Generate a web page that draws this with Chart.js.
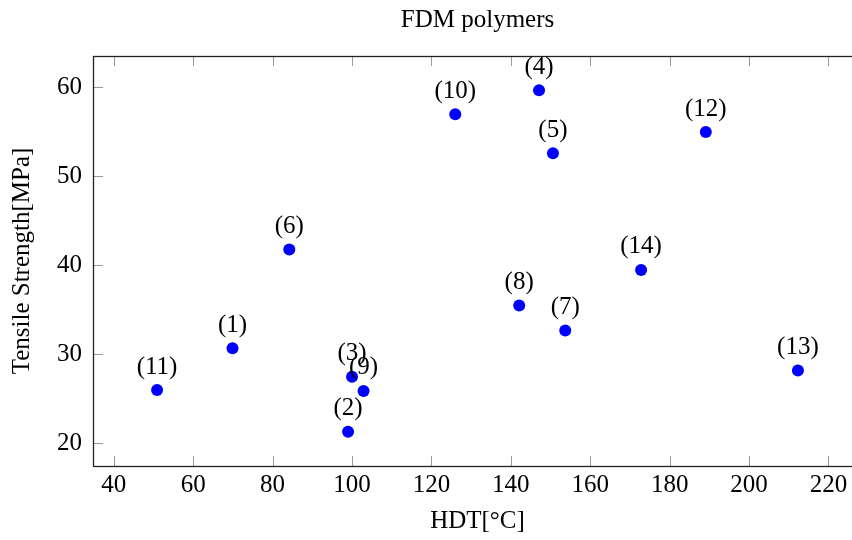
<!DOCTYPE html>
<html>
<head>
<meta charset="utf-8">
<script src="https://cdn.jsdelivr.net/npm/chart.js@4/dist/chart.umd.min.js"></script>
<style>
html,body{margin:0;padding:0;background:#fff;overflow:hidden;width:852px;height:540px;}
#c{display:block;}
</style>
</head>
<body>
<canvas id="c" width="872" height="540"></canvas>
<script>
const pointLabels = ['(1)','(2)','(3)','(4)','(5)','(6)','(7)','(8)','(9)','(10)','(11)','(12)','(13)','(14)'];
const hdt = [69.9, 99.0, 100.0, 147.1, 150.6, 84.2, 153.7, 142.1, 102.9, 126.0, 50.9, 189.1, 212.3, 172.8];
const tensile = [30.7, 21.3, 27.5, 59.7, 52.6, 41.8, 32.7, 35.5, 25.9, 57.0, 26.0, 55.0, 28.2, 39.5];
const xTicks = [40, 60, 80, 100, 120, 140, 160, 180, 200, 220];
const yTicks = [20, 30, 40, 50, 60];
const chartTitle = 'FDM polymers';
const xTitle = 'HDT[°C]';
const yTitle = 'Tensile Strength[MPa]';

const FONT = '"Liberation Serif", "Times New Roman", serif';

const points = hdt.map((x, i) => ({x: x, y: tensile[i]}));

const framePlugin = {
  id: 'frame',
  afterDatasetsDraw(chart) {
    const ctx = chart.ctx;
    const a = chart.chartArea;
    const xs = chart.scales.x, ys = chart.scales.y;
    ctx.save();
    // inward ticks
    ctx.strokeStyle = '#9a9a9a';
    ctx.lineWidth = 1;
    const tl = 10;
    xTicks.forEach(v => {
      const px = Math.round(xs.getPixelForValue(v)) + 0.5;
      ctx.beginPath();
      ctx.moveTo(px, a.bottom); ctx.lineTo(px, a.bottom - tl);
      ctx.moveTo(px, a.top); ctx.lineTo(px, a.top + tl);
      ctx.stroke();
    });
    yTicks.forEach(v => {
      const py = Math.round(ys.getPixelForValue(v)) + 0.5;
      ctx.beginPath();
      ctx.moveTo(a.left, py); ctx.lineTo(a.left + tl, py);
      ctx.moveTo(a.right, py); ctx.lineTo(a.right - tl, py);
      ctx.stroke();
    });
    // frame
    ctx.strokeStyle = '#222';
    ctx.lineWidth = 1.3;
    ctx.strokeRect(Math.round(a.left) + 0.5, Math.round(a.top) + 0.5, a.right - a.left, a.bottom - a.top);
    // point labels
    const meta = chart.getDatasetMeta(0);
    ctx.fillStyle = '#000';
    ctx.font = '25px ' + FONT;
    ctx.textAlign = 'center';
    ctx.textBaseline = 'middle';
    meta.data.forEach((el, i) => {
      ctx.fillText(pointLabels[i], el.x, el.y - 23);
    });
    // title
    ctx.font = '25px ' + FONT;
    ctx.textBaseline = 'middle';
    ctx.fillText(chartTitle, (a.left + a.right) / 2, 20);
    ctx.restore();
  }
};

new Chart(document.getElementById('c'), {
  type: 'scatter',
  data: {
    datasets: [{
      data: points,
      backgroundColor: '#0000ff',
      borderColor: '#0000ff',
      pointRadius: 6,
      pointHoverRadius: 6,
      borderWidth: 0
    }]
  },
  options: {
    responsive: false,
    devicePixelRatio: 1,
    animation: false,
    events: [],
    layout: { padding: { top: 56, right: 10, left: 0, bottom: 0 } },
    plugins: {
      legend: { display: false },
      title: { display: false },
      tooltip: { enabled: false }
    },
    scales: {
      x: {
        type: 'linear',
        min: 34.76,
        max: 228.44,
        afterBuildTicks(scale) { scale.ticks = xTicks.map(v => ({value: v})); },
        afterFit(scale) { scale.height = 74; },
        grid: { display: false, drawTicks: false },
        border: { display: false },
        ticks: {
          color: '#000',
          font: { family: FONT, size: 25 },
          padding: 4,
          maxRotation: 0,
          autoSkip: false
        },
        title: {
          display: true,
          text: xTitle,
          color: '#000',
          font: { family: FONT, size: 25 },
          padding: { top: 0, bottom: 4 }
        }
      },
      y: {
        type: 'linear',
        min: 17.46,
        max: 63.54,
        afterBuildTicks(scale) { scale.ticks = yTicks.map(v => ({value: v})); },
        afterFit(scale) { scale.width = 93; },
        grid: { display: false, drawTicks: false },
        border: { display: false },
        ticks: {
          color: '#000',
          font: { family: FONT, size: 25 },
          padding: 11,
          autoSkip: false
        },
        title: {
          display: true,
          text: yTitle,
          color: '#000',
          font: { family: FONT, size: 25 },
          padding: { top: 7, bottom: 0 }
        }
      }
    }
  },
  plugins: [framePlugin]
});
</script>
</body>
</html>
